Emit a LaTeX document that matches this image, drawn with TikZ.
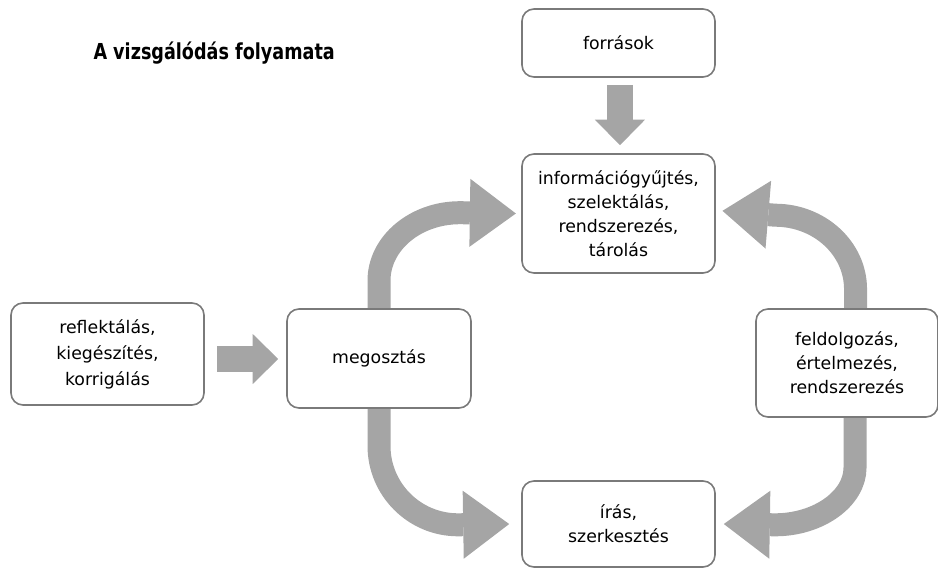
\documentclass[tikz,border=0pt]{standalone}
\usepackage{fontspec}
\setmainfont{DejaVu Sans}
\newfontfamily\titlefont[FakeStretch=0.8]{DejaVu Sans}
\usetikzlibrary{arrows.meta,backgrounds}

\definecolor{boxgray}{RGB}{122,122,122}
\definecolor{arrowgray}{RGB}{165,165,165}

\tikzset{every picture/.style={line width=0.75pt}}
\tikzset{
  stepbox/.style={draw=boxgray, line width=1.2pt, rounded corners=9pt, fill=white, align=center, inner sep=0pt, font=\fontsize{13}{18}\selectfont},
  bigarrow/.style={draw=arrowgray, line width=17.25pt, -{Triangle[length=34.5pt,width=51pt,line width=0pt]}},
  smallarrow/.style={draw=arrowgray, line width=19.1pt, -{Triangle[length=19.1pt,width=37.5pt,line width=0pt]}},
}

\begin{document}
\begin{tikzpicture}[x=0.75pt,y=0.75pt,yscale=-1,xscale=1]
\useasboundingbox (0,0) rectangle (938,571);

% Text Node
\node (title) at (93,59.5) [anchor=base west, inner sep=0pt, font=\fontsize{16.5}{19}\titlefont\bfseries] {A vizsgálódás folyamata};

%Shape: Rounded Rect [forrasok]
\node (forras) at (618.5,43) [stepbox, minimum width=144.75pt, minimum height=51pt] {források};
%Shape: Rounded Rect [informaciogyujtes]
\node (info) at (618.5,213.5) [stepbox, minimum width=144.75pt, minimum height=89.25pt] {információgyűjtés,\\szelektálás,\\rendszerezés,\\tárolás};
%Shape: Rounded Rect [reflektalas]
\node (reflekt) at (107.5,354) [stepbox, minimum width=144.75pt, minimum height=76.5pt, font=\fontsize{13}{19.5}\selectfont] {reflektálás,\\kiegészítés,\\korrigálás};
%Shape: Rounded Rect [megosztas]
\node (megoszt) at (379,358.5) [stepbox, minimum width=138pt, minimum height=74.25pt] {megosztás};
%Shape: Rounded Rect [feldolgozas]
\node (feldolg) at (847,363) [stepbox, minimum width=136.5pt, minimum height=81pt] {feldolgozás,\\értelmezés,\\rendszerezés};
%Shape: Rounded Rect [iras]
\node (iras) at (618.5,524) [stepbox, minimum width=144.75pt, minimum height=64.5pt] {írás,\\szerkesztés};

\coordinate (midrow) at (0,359);

\begin{pgfonlayer}{background}
%Straight Arrows
\draw [smallarrow, shorten <=5.25pt, shorten >=6pt] ([xshift=1.1pt]forras.south) -- ([xshift=1.1pt]info.north);
\draw [smallarrow, shorten <=9pt, shorten >=6pt] (reflekt.east |- midrow) -- (megoszt.west |- midrow);
%Curve Arrows
\draw [bigarrow] (megoszt.north) -- ++(0,-27.5) .. controls +(0,-37.5) and +(-44.7,0) .. ++(81,-68) -- ([xshift=-4pt]info.west);
\draw [bigarrow] ([xshift=6.4pt]feldolg.north) -- ++(0,-19) .. controls +(0,-40.8) and +(44.4,0) .. ++(-80.5,-74) -- ([xshift=5pt,yshift=-2pt]info.east);
\draw [bigarrow] (megoszt.south) -- ++(0,37) .. controls +(0,43.6) and +(-43.6,0) .. ++(79,79) -- ([xshift=-9pt]iras.west);
\draw [bigarrow] ([xshift=6pt]feldolg.south) -- ++(0,50) .. controls +(0,30.4) and +(44,0) .. ++(-80,57) -- ([xshift=6pt]iras.east);
\end{pgfonlayer}

\end{tikzpicture}
\end{document}
